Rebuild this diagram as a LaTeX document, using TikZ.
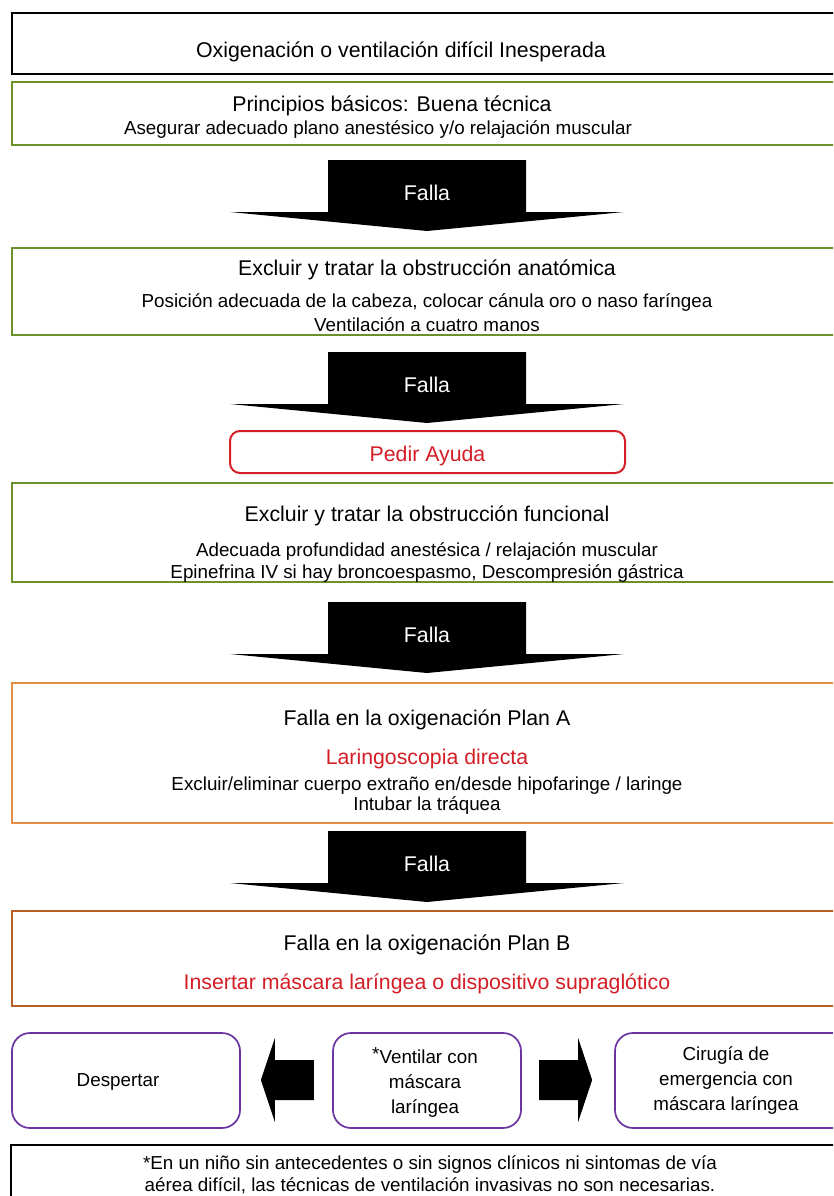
\documentclass[tikz,border=0pt]{standalone}
\usepackage{fontspec}
\setmainfont{Liberation Sans}
\usetikzlibrary{calc}
\definecolor{verde}{RGB}{108,145,40}
\definecolor{naranja}{RGB}{226,142,68}
\definecolor{marron}{RGB}{182,96,40}
\definecolor{morado}{RGB}{108,52,160}
\definecolor{rojo}{RGB}{212,30,38}
\tikzset{
    %Define style for the wide boxes
    caja/.style={
           rectangle,
           draw=black, line width=2pt,
           minimum width=834pt,
           inner sep=0pt},
    %Define style for the rounded boxes
    cajaredonda/.style={
           rectangle,
           rounded corners=18pt,
           draw=morado, line width=1.7pt,
           minimum height=95pt,
           inner sep=0pt},
    % Define text styles
    titulo/.style={
           font=\fontsize{21.3}{25}\selectfont,
           text height=16pt, text depth=5.3pt,
           inner sep=0pt},
    texto/.style={
           font=\fontsize{18.8}{19.5}\selectfont,
           text height=14.1pt, text depth=4.7pt,
           inner sep=0pt},
    lineas/.style={
           font=\fontsize{18.8}{25}\selectfont,
           align=center,
           inner sep=0pt},
    falla/.style={titulo, text=white}
}
\begin{document}
\begin{tikzpicture}[x=1pt,y=-1pt]
\clip (0,0) rectangle (833,1196);
\fill[white] (0,0) rectangle (833,1196);
 %boxes
\node[caja, minimum height=61pt] (b1) at (429,43.5) {};
\node[caja, draw=verde, minimum height=63pt] (b2) at (429,113.5) {};
\node[caja, draw=verde, minimum height=87pt] (b3) at (429,291.5) {};
\node[rectangle, rounded corners=10pt, draw=rojo, line width=2pt,
      minimum width=395pt, minimum height=42pt] (ayuda) at (427.5,452) {};
\node[caja, draw=verde, minimum height=99pt] (b4) at (429,532.5) {};
\node[caja, draw=naranja, minimum height=139.5pt] (b5) at (429,753) {};
\node[caja, draw=marron, minimum height=95pt] (b6) at (429,958.5) {};
\node[cajaredonda, minimum width=228pt] (desp) at (126,1080.5) {};
\node[cajaredonda, minimum width=188pt] (vent) at (427,1080.5) {};
\node[cajaredonda, minimum width=235pt] (ciru) at (732.5,1080.5) {};
\node[caja, minimum width=835pt, minimum height=65pt] (nota) at (428.5,1177.5) {};
 %texts
\node[titulo] (t1) at (401,52.5) {Oxigenación o ventilación difícil Inesperada};
\node[titulo] (t2) at (392,106) {Principios básicos: Buena técnica};
\node[texto] (t2b) at (378,130) {Asegurar adecuado plano anestésico y/o relajación muscular};
\node[titulo] (t3) at (427,270.4) {Excluir y tratar la obstrucción anatómica};
\node[texto] (t3b) at (427,303.1) {Posición adecuada de la cabeza, colocar cánula oro o naso faríngea};
\node[texto] (t3c) at (427,327.1) {Ventilación a cuatro manos};
\node[titulo, text=rojo] (tayuda) at (427.5,456) {Pedir Ayuda};
\node[titulo] (t4) at (427,516.4) {Excluir y tratar la obstrucción funcional};
\node[texto] (t4b) at (427,552.1) {Adecuada profundidad anestésica / relajación muscular};
\node[texto] (t4c) at (427,574.1) {Epinefrina IV si hay broncoespasmo, Descompresión gástrica};
\node[titulo] (t5) at (427,719.7) {Falla en la oxigenación Plan A};
\node[titulo, text=rojo] (t5b) at (427,759) {Laringoscopia directa};
\node[texto] (t5c) at (427,785.4) {Excluir/eliminar cuerpo extraño en/desde hipofaringe / laringe};
\node[texto] (t5d) at (427,805.4) {Intubar la tráquea};
\node[titulo] (t6) at (427,945) {Falla en la oxigenación Plan B};
\node[titulo, text=rojo] (t6b) at (427,984) {Insertar máscara laríngea o dispositivo supraglótico};
\node[texto] (tdesp) at (118,1082) {Despertar};
\node[lineas] (tvent) at (425,1082) {\raisebox{3pt}{*}Ventilar con\\máscara\\laríngea};
\node[lineas] (tciru) at (726,1081) {Cirugía de\\emergencia con\\máscara laríngea};
\node[lineas, font=\fontsize{18.8}{22}\selectfont] (tnota) at (430,1175)
     {*En un niño sin antecedentes o sin signos clínicos ni sintomas de vía\\aérea difícil, las técnicas de ventilación invasivas no son necesarias.};
 %arrows
\foreach \n/\t in {1/160,2/352,3/602,4/831} {
  \fill (328,\t) -- (526,\t) -- (526,\t+52) -- (624,\t+52) -- (427,\t+71)
        -- (230,\t+52) -- (328,\t+52) -- cycle;
  \node[falla] (falla\n) at (427,\t+35.4) {Falla};
}
\fill ($(desp.east)+(20,-0.5)$) -- ++(14,-42) -- ++(0,22) -- ++(39,0)
      -- ++(0,40) -- ++(-39,0) -- ++(0,22) -- cycle;
\fill ($(ciru.west)+(-22,-0.5)$) -- ++(-14,-42) -- ++(0,22) -- ++(-39,0)
      -- ++(0,40) -- ++(39,0) -- ++(0,22) -- cycle;
\end{tikzpicture}
\end{document}
